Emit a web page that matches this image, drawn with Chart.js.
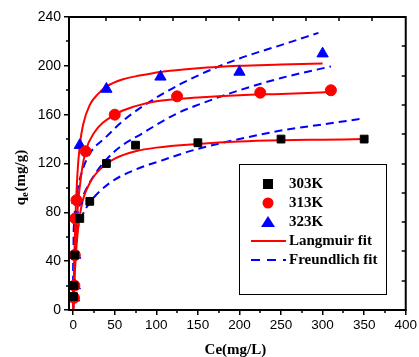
<!DOCTYPE html>
<html>
<head>
<meta charset="utf-8">
<script src="https://cdn.jsdelivr.net/npm/chart.js@4/dist/chart.umd.min.js"></script>
<style>
html,body{margin:0;padding:0;background:#fff;}
canvas{display:block;}
</style>
</head>
<body>
<canvas id="c" width="419" height="357"></canvas>
<script>
// ---- data ----
const xTicks = [0, 50, 100, 150, 200, 250, 300, 350, 400];
const yTicks = [0, 40, 80, 120, 160, 200, 240];

const ce303 = [0.5, 1, 2, 8, 20, 40, 75, 150, 250, 350];
const qe303 = [11, 20, 45, 75, 89, 120, 135, 137, 140, 140];
const ce313 = [1, 1.5, 2, 2.5, 4, 15, 50, 125, 225, 310];
const qe313 = [10, 20, 45, 75, 90, 130, 160, 175, 178, 180];
const ce323 = [1, 2, 2.5, 3, 5, 8, 40, 105, 200, 300];
const qe323 = [10, 20, 45, 76, 90, 135, 181, 191, 195, 210];

// fitted curves
const langX303 = [0, 2, 5, 10, 20, 35, 50, 75, 100, 150, 200, 250, 300, 350];
const langY303 = [0, 30, 60, 85, 104, 117, 124, 130, 133, 136, 138, 139, 139.5, 140];
const langX313 = [0, 2, 5, 10, 15, 25, 50, 75, 100, 150, 200, 250, 310];
const langY313 = [0, 40, 80, 112, 130, 145, 160, 167, 171, 174, 176, 177, 178.5];
const langX323 = [0, 2, 5, 8, 12, 20, 30, 40, 60, 80, 105, 150, 200, 250, 300];
const langY323 = [0, 60, 110, 135, 152, 168, 177, 183, 189, 192, 195, 198, 200, 201, 202];

const freuX303 = [0, 0.5, 1, 2, 5, 10, 20, 44, 75, 100, 150, 200, 250, 300, 350];
const freuY303 = [0, 32, 46, 54, 66, 76, 88, 104, 115, 121, 132, 140, 147, 152, 157];
const freuX313 = [0, 0.5, 1, 2, 5, 10, 26, 50, 84, 125, 150, 200, 250, 310];
const freuY313 = [0, 42, 54, 63, 78, 90, 111, 130, 145, 161, 168, 180, 190, 199.5];
const freuX323 = [0, 0.5, 1, 2, 5, 10, 20, 40, 60, 105, 150, 200, 250, 295];
const freuY323 = [0, 58, 70, 80, 97, 112, 128, 142, 155, 176, 192, 206, 217, 227];

const legendLabels = ['303K', '313K', '323K', 'Langmuir fit', 'Freundlich fit'];

function pts(xs, ys) { return xs.map((x, i) => ({ x: x, y: ys[i] })); }

const RED = '#ff0000', BLUE = '#0000ff', BLACK = '#000000';

function lineDs(xs, ys, color, dashed) {
  return {
    type: 'line', data: pts(xs, ys), showLine: true, borderColor: color,
    borderWidth: 2, borderDash: dashed ? [8, 5] : [], pointRadius: 0,
    fill: false, cubicInterpolationMode: 'monotone', order: 2
  };
}
function markDs(xs, ys, color, style, r) {
  return {
    type: 'scatter', data: pts(xs, ys), backgroundColor: color, borderColor: color,
    pointStyle: style, pointRadius: r, pointHoverRadius: r, borderWidth: 1, order: 1
  };
}

const SANS = '"Liberation Sans", Arial, sans-serif';
const SERIF = '"Liberation Serif", "Times New Roman", serif';

const decor = {
  id: 'decor',
  afterDraw(chart) {
    const ctx = chart.ctx, a = chart.chartArea;
    const xs = chart.scales.x, ys = chart.scales.y;
    ctx.save();
    // frame
    ctx.strokeStyle = '#000'; ctx.lineWidth = 2;
    ctx.strokeRect(a.left, a.top, a.right - a.left, a.bottom - a.top);
    ctx.lineWidth = 1.5;
    ctx.beginPath();
    // minor ticks bottom (outward)
    for (let v = 25; v < 400; v += 50) {
      const p = Math.round(xs.getPixelForValue(v));
      ctx.moveTo(p, a.bottom); ctx.lineTo(p, a.bottom + 3);
    }
    // minor ticks left (outward)
    for (let v = 20; v < 240; v += 40) {
      const p = Math.round(ys.getPixelForValue(v));
      ctx.moveTo(a.left, p); ctx.lineTo(a.left - 3, p);
    }
    // top ticks (inward)
    for (let v = 40; v < 400; v += 40) {
      const p = Math.round(xs.getPixelForValue(v));
      ctx.moveTo(p, a.top); ctx.lineTo(p, a.top + 4);
    }
    // right ticks (inward)
    for (let v = 24; v < 240; v += 24) {
      const p = Math.round(ys.getPixelForValue(v));
      ctx.moveTo(a.right, p); ctx.lineTo(a.right - 4, p);
    }
    ctx.stroke();

    // x title
    ctx.fillStyle = '#000';
    ctx.font = 'bold 15px ' + SERIF;
    ctx.textAlign = 'center'; ctx.textBaseline = 'middle';
    ctx.fillText('Ce(mg/L)', (a.left + a.right) / 2 - 2, 350);

    // y title with subscript
    ctx.save();
    ctx.translate(20, 178);
    ctx.rotate(-Math.PI / 2);
    ctx.textAlign = 'left'; ctx.textBaseline = 'alphabetic';
    ctx.font = 'bold 15px ' + SERIF;
    const w1 = ctx.measureText('q').width;
    ctx.font = 'bold 10px ' + SERIF;
    const w2 = ctx.measureText('e').width;
    ctx.font = 'bold 15px ' + SERIF;
    const w3 = ctx.measureText('(mg/g)').width;
    let x0 = -(w1 + w2 + w3) / 2;
    ctx.fillText('q', x0, 5);
    ctx.font = 'bold 10px ' + SERIF;
    ctx.fillText('e', x0 + w1, 8);
    ctx.font = 'bold 15px ' + SERIF;
    ctx.fillText('(mg/g)', x0 + w1 + w2 + 1, 5);
    ctx.restore();

    // legend box
    const bx = 239.5, by = 164.5, bw = 147, bh = 130;
    ctx.fillStyle = '#fff';
    ctx.fillRect(bx, by, bw, bh);
    ctx.strokeStyle = '#000'; ctx.lineWidth = 1;
    ctx.strokeRect(bx, by, bw, bh);
    const rowY = [184, 203, 222, 241, 260];
    const symX = 268, txtX = 289;
    // square
    ctx.fillStyle = BLACK; ctx.fillRect(symX - 5, rowY[0] - 5, 10, 10);
    // circle
    ctx.fillStyle = RED; ctx.beginPath(); ctx.arc(symX, rowY[1], 5.5, 0, Math.PI * 2); ctx.fill();
    // triangle
    ctx.fillStyle = BLUE; ctx.beginPath();
    ctx.moveTo(symX, rowY[2] - 6); ctx.lineTo(symX + 7, rowY[2] + 5); ctx.lineTo(symX - 7, rowY[2] + 5);
    ctx.closePath(); ctx.fill();
    // solid red line
    ctx.strokeStyle = RED; ctx.lineWidth = 2; ctx.setLineDash([]);
    ctx.beginPath(); ctx.moveTo(251, rowY[3]); ctx.lineTo(286, rowY[3]); ctx.stroke();
    // dashed blue
    ctx.strokeStyle = BLUE; ctx.setLineDash([9, 7]);
    ctx.beginPath(); ctx.moveTo(251, rowY[4]); ctx.lineTo(286, rowY[4]); ctx.stroke();
    ctx.setLineDash([]);
    ctx.fillStyle = '#000';
    ctx.font = 'bold 15px ' + SERIF;
    ctx.textAlign = 'left'; ctx.textBaseline = 'middle';
    legendLabels.forEach((t, i) => ctx.fillText(t, txtX, rowY[i]));
    ctx.restore();
  }
};

new Chart(document.getElementById('c'), {
  type: 'scatter',
  data: {
    datasets: [
      lineDs(langX303, langY303, RED, false),
      lineDs(langX313, langY313, RED, false),
      lineDs(langX323, langY323, RED, false),
      lineDs(freuX303, freuY303, BLUE, true),
      lineDs(freuX313, freuY313, BLUE, true),
      lineDs(freuX323, freuY323, BLUE, true),
      markDs(ce303, qe303, BLACK, 'rect', 5.5),
      markDs(ce313, qe313, RED, 'circle', 5.5),
      markDs(ce323, qe323, BLUE, 'triangle', 6.5)
    ]
  },
  options: {
    responsive: false,
    animation: false,
    layout: { padding: { left: 0, right: 11, top: 17, bottom: 0 } },
    plugins: { legend: { display: false }, tooltip: { enabled: false } },
    scales: {
      x: {
        type: 'linear', min: -5, max: 400,
        afterBuildTicks: s => { s.ticks = xTicks.map(v => ({ value: v })); },
        ticks: { color: '#000', font: { family: SANS, size: 13.5 }, padding: 2, maxRotation: 0 },
        grid: { display: true, drawOnChartArea: false, color: '#000', lineWidth: 1.5, tickLength: 5 },
        border: { display: true, color: '#000', width: 2 },
        afterFit: s => { s.height = 47; }
      },
      y: {
        type: 'linear', min: 0, max: 240,
        afterBuildTicks: s => { s.ticks = yTicks.map(v => ({ value: v })); },
        ticks: { color: '#000', font: { family: SANS, size: 14 }, padding: 3 },
        grid: { display: true, drawOnChartArea: false, color: '#000', lineWidth: 1.5, tickLength: 5 },
        border: { display: true, color: '#000', width: 2 },
        afterFit: s => { s.width = 69; }
      }
    }
  },
  plugins: [decor]
});
</script>
</body>
</html>
